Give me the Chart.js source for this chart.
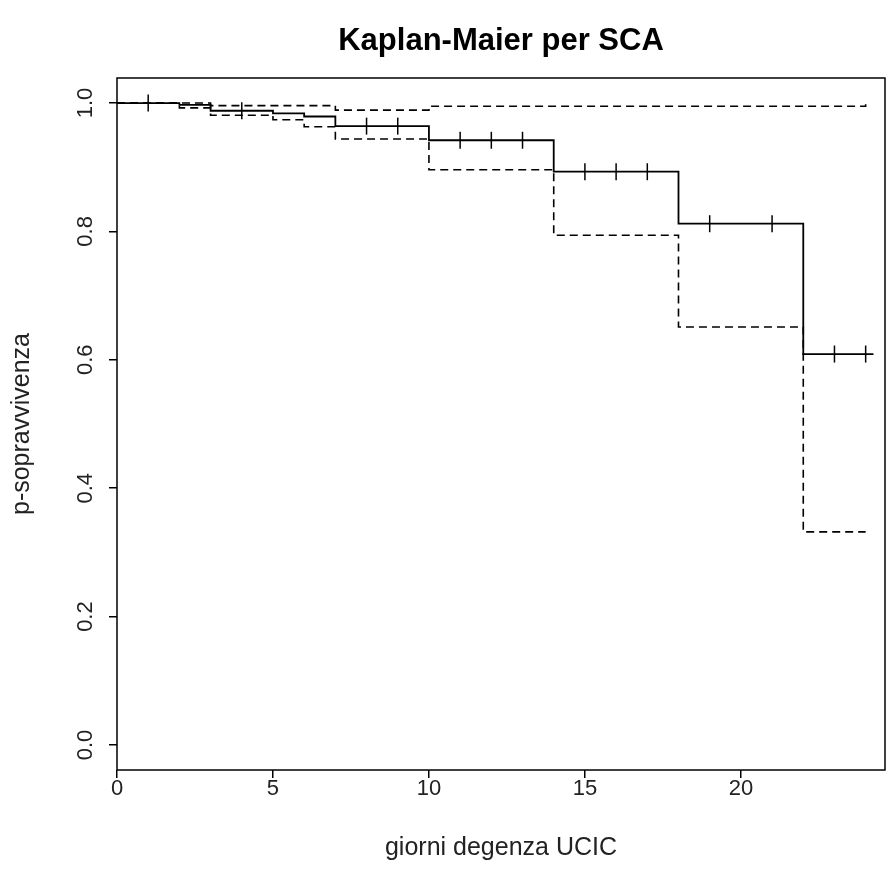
<!DOCTYPE html>
<html lang="it">
<head>
    <meta charset="utf-8">
    <title>Kaplan-Maier per SCA</title>
    <script src="https://cdn.jsdelivr.net/npm/chart.js@4.4.0/dist/chart.umd.min.js"></script>
    <style>
        html, body { margin: 0; padding: 0; background: #fff; }
        .kontainer { width: 891px; height: 890px; }
    </style>
</head>
<body>
    <div class="kontainer">
        <canvas id="kmChart" width="891" height="890"></canvas>
    </div>
    <script>
        // curva di sopravvivenza (stima KM)
        var tempiKM = [0, 2, 3, 5, 6, 7, 10, 14, 18, 22, 24.25];
        var survKM = [1.0, 0.997, 0.988, 0.984, 0.979, 0.964, 0.942, 0.893, 0.812, 0.609, 0.609];

        // intervallo di confidenza, limite superiore
        var tempiSup = [0, 2, 3, 7, 10, 24];
        var survSup = [1.0, 1.0, 0.996, 0.989, 0.995, 0.998];

        // intervallo di confidenza, limite inferiore
        var tempiInf = [0, 2, 3, 5, 6, 7, 10, 14, 18, 22, 24];
        var survInf = [1.0, 0.9925, 0.981, 0.974, 0.963, 0.944, 0.896, 0.794, 0.651, 0.332, 0.332];

        // osservazioni censurate
        var tempiCens = [1, 4, 8, 9, 11, 12, 13, 15, 16, 17, 19, 21, 23, 24];
        var survCens = [1.0, 0.988, 0.964, 0.964, 0.942, 0.942, 0.942, 0.893, 0.893, 0.893, 0.812, 0.812, 0.609, 0.609];

        var xTicks = [0, 5, 10, 15, 20];
        var yTicks = [0.0, 0.2, 0.4, 0.6, 0.8, 1.0];

        function punti(xs, ys) {
            return xs.map(function (x, i) { return { x: x, y: ys[i] }; });
        }

        var font = "'Liberation Sans', Arial, sans-serif";

        // cornice attorno all'area del grafico
        var cornice = {
            id: 'cornice',
            afterDraw: function (chart) {
                var a = chart.chartArea;
                var c = chart.ctx;
                c.save();
                c.strokeStyle = '#000';
                c.lineWidth = 1.5;
                c.strokeRect(a.left, a.top, a.right - a.left, a.bottom - a.top);
                c.restore();
            }
        };

        const ctx = document.getElementById('kmChart').getContext('2d');
        const kmChart = new Chart(ctx, {
            type: 'scatter',
            data: {
                datasets: [{
                    label: 'KM',
                    data: punti(tempiKM, survKM),
                    showLine: true,
                    stepped: 'before',
                    borderColor: '#000',
                    borderWidth: 1.8,
                    pointRadius: 0
                }, {
                    label: 'IC sup',
                    data: punti(tempiSup, survSup),
                    showLine: true,
                    stepped: 'before',
                    borderColor: '#000',
                    borderWidth: 1.6,
                    borderDash: [8, 5],
                    pointRadius: 0
                }, {
                    label: 'IC inf',
                    data: punti(tempiInf, survInf),
                    showLine: true,
                    stepped: 'before',
                    borderColor: '#000',
                    borderWidth: 1.6,
                    borderDash: [8, 5],
                    pointRadius: 0
                }, {
                    label: 'censurati',
                    data: punti(tempiCens, survCens),
                    showLine: false,
                    pointStyle: 'line',
                    rotation: 90,
                    pointRadius: 8.5,
                    pointBorderWidth: 1.5,
                    borderColor: '#000',
                    backgroundColor: '#000'
                }]
            },
            options: {
                responsive: false,
                animation: false,
                layout: { autoPadding: false, padding: { right: 6 } },
                plugins: {
                    legend: { display: false },
                    tooltip: { enabled: false },
                    title: {
                        display: true,
                        text: 'Kaplan-Maier per SCA',
                        fullSize: false,
                        color: '#000',
                        font: { family: font, size: 31, weight: 'bold', lineHeight: 1.2 },
                        padding: { top: 23, bottom: 17.8 }
                    }
                },
                scales: {
                    x: {
                        type: 'linear',
                        min: 0,
                        max: 24.62,
                        afterBuildTicks: function (s) { s.ticks = xTicks.map(function (v) { return { value: v }; }); },
                        afterFit: function (s) { s.height = 120; },
                        grid: { drawOnChartArea: false, drawTicks: true, tickLength: 8, color: '#000', lineWidth: 1.5 },
                        border: { display: false },
                        ticks: { color: '#222', padding: 0, font: { family: font, size: 22, lineHeight: 1.0 }, maxRotation: 0 },
                        title: {
                            display: true,
                            text: 'giorni degenza UCIC',
                            color: '#222',
                            font: { family: font, size: 25 },
                            padding: { top: 0, bottom: 27 }
                        }
                    },
                    y: {
                        type: 'linear',
                        min: -0.039,
                        max: 1.039,
                        afterBuildTicks: function (s) { s.ticks = yTicks.map(function (v) { return { value: v }; }); },
                        afterFit: function (s) { s.width = 117; },
                        grid: { drawOnChartArea: false, drawTicks: true, tickLength: 8, color: '#000', lineWidth: 1.5 },
                        border: { display: false },
                        ticks: {
                            color: '#222',
                            padding: 8,
                            minRotation: 90,
                            maxRotation: 90,
                            crossAlign: 'center',
                            font: { family: font, size: 22 },
                            callback: function (v) { return v.toFixed(1); }
                        },
                        title: {
                            display: true,
                            text: 'p-sopravvivenza',
                            color: '#222',
                            font: { family: font, size: 25 },
                            padding: { top: 7, bottom: 0 }
                        }
                    }
                }
            },
            plugins: [cornice]
        });
    </script>
</body>
</html>
